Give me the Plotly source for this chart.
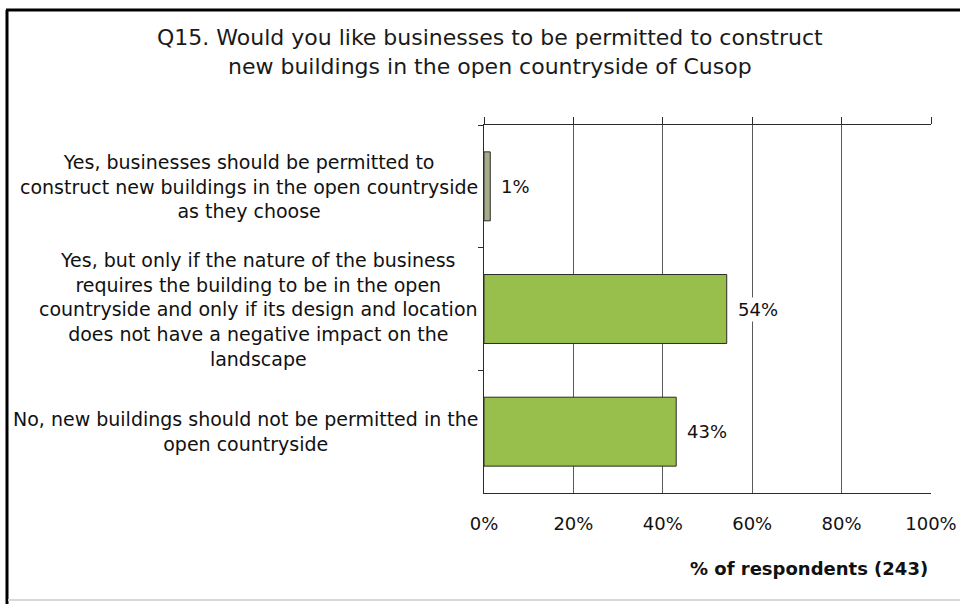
import plotly.graph_objects as go

categories = [
    "Yes, businesses should be permitted to<br>construct new buildings in the open countryside<br>as they choose",
    "Yes, but only if the nature of the business<br>requires the building to be in the open<br>countryside and only if its design and location<br>does not have a negative impact on the<br>landscape",
    "No, new buildings should not be permitted in the<br>open countryside",
]
values = [1.4, 54.3, 43.0]
bar_colors = ["#A7AC88", "#98BE4B", "#98BE4B"]
x_ticks = [0, 20, 40, 60, 80, 100]
x_tick_labels = ["0%", "20%", "40%", "60%", "80%", "100%"]
title_lines = [
    "Q15. Would you like businesses to be permitted to construct",
    "new buildings in the open countryside of Cusop",
]
x_title = "% of respondents (243)"

FONT = "DejaVu Sans"

fig = go.Figure()
fig.add_trace(go.Bar(
    x=values, y=categories, orientation="h",
    marker=dict(color=bar_colors, line=dict(color="#2b2b2b", width=1)),
    hoverinfo="skip", showlegend=False,
))
# invisible trace to anchor the top axis
fig.add_trace(go.Scatter(x=[None], y=[None], xaxis="x2", yaxis="y",
                         mode="markers", showlegend=False, hoverinfo="skip"))

annotations = []
# data labels
for c, v in zip(categories, values):
    annotations.append(dict(
        x=v, y=c, xref="x", yref="y", text=f"{v:.0f}%", showarrow=False,
        xanchor="left", yanchor="middle", xshift=9, bgcolor="white",
        font=dict(family=FONT, size=18, color="#111111"),
    ))
# category labels (centered multi-line blocks)
for c in categories:
    annotations.append(dict(
        x=0, y=c, xref="paper", yref="y", text=c, showarrow=False,
        xanchor="right", yanchor="middle", xshift=-4, align="center",
        font=dict(family=FONT, size=19, color="#111111"),
    ))
# title lines
plot_l, plot_r, plot_t, plot_b = 484, 931, 125, 493
pw, ph = plot_r - plot_l, plot_b - plot_t
def px_to_paper_x(px):
    return (px - plot_l) / pw
def px_to_paper_y(py):
    return (plot_b - py) / ph

for line, cy in zip(title_lines, [38, 66]):
    annotations.append(dict(
        x=px_to_paper_x(490), y=px_to_paper_y(cy), xref="paper", yref="paper",
        text=line, showarrow=False, xanchor="center", yanchor="middle",
        font=dict(family=FONT, size=22, color="#1a1a1a"),
    ))
annotations.append(dict(
    x=px_to_paper_x(809), y=px_to_paper_y(568), xref="paper", yref="paper",
    text=f"<b>{x_title}</b>", showarrow=False, xanchor="center", yanchor="middle",
    font=dict(family=FONT, size=18, color="#111111"),
))

shapes = [
    # outer frame: left and top dark lines
    dict(type="line", xref="paper", yref="paper",
         x0=px_to_paper_x(7), x1=px_to_paper_x(7),
         y0=px_to_paper_y(10), y1=px_to_paper_y(610),
         line=dict(color="#000000", width=3)),
    dict(type="line", xref="paper", yref="paper",
         x0=px_to_paper_x(6), x1=px_to_paper_x(970),
         y0=px_to_paper_y(10), y1=px_to_paper_y(10),
         line=dict(color="#000000", width=3)),
    dict(type="line", xref="paper", yref="paper",
         x0=px_to_paper_x(8), x1=px_to_paper_x(970),
         y0=px_to_paper_y(600), y1=px_to_paper_y(600),
         line=dict(color="#d8d8d8", width=2)),
]

fig.update_layout(
    width=960, height=604,
    margin=dict(l=plot_l, r=960 - plot_r, t=plot_t, b=604 - plot_b, pad=0),
    paper_bgcolor="white", plot_bgcolor="white",
    bargap=0.438,
    font=dict(family=FONT, size=18, color="#111111"),
    xaxis=dict(
        range=[0, 100], tickvals=x_ticks, ticktext=x_tick_labels,
        showgrid=True, gridcolor="#5a5a5a", gridwidth=1,
        showline=True, linecolor="#2b2b2b", linewidth=1,
        ticks="", ticklabelstandoff=14, zeroline=False,
        tickfont=dict(family=FONT, size=18, color="#111111"),
        fixedrange=True, automargin=False,
    ),
    xaxis2=dict(
        range=[0, 100], tickvals=x_ticks, overlaying="x", side="top",
        anchor="y", showticklabels=False, showgrid=False,
        showline=True, linecolor="#2b2b2b", linewidth=1,
        ticks="outside", ticklen=7, tickcolor="#2b2b2b", tickwidth=1,
        zeroline=False, fixedrange=True, automargin=False,
    ),
    yaxis=dict(
        categoryorder="array", categoryarray=categories,
        range=[2.5, -0.5], showticklabels=False,
        showline=True, linecolor="#2b2b2b", linewidth=1,
        ticks="outside", ticklen=5, tickcolor="#2b2b2b", tickson="boundaries",
        showgrid=False, zeroline=False, fixedrange=True, automargin=False,
    ),
    annotations=annotations,
    shapes=shapes,
)

fig.write_html(
    "out.html",
    config={"displayModeBar": False},
    post_script="document.body.style.margin='0';document.body.style.overflow='hidden';",
)
